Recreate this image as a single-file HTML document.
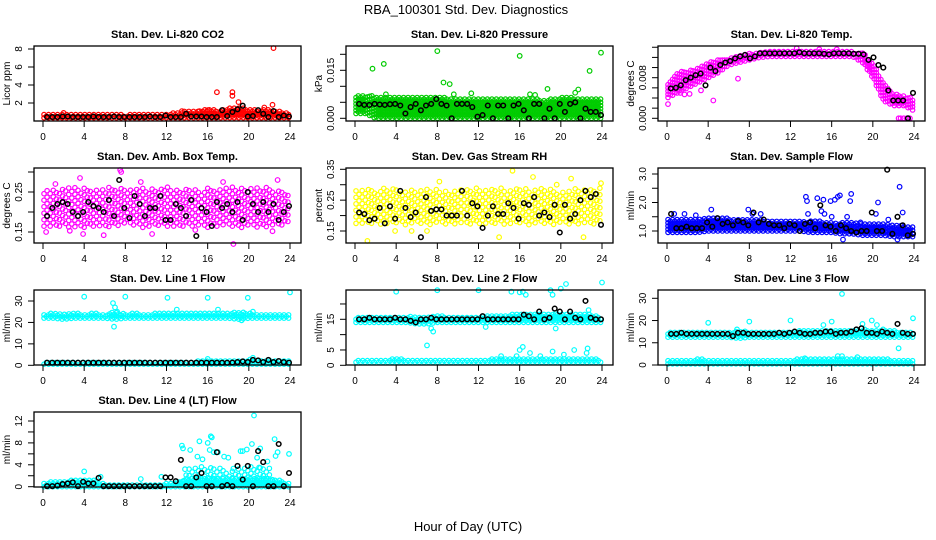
<!DOCTYPE html>
<html><head><meta charset="utf-8"><title>RBA_100301 Std. Dev. Diagnostics</title>
<style>
html,body{margin:0;padding:0;background:#fff;}
svg{display:block;font-family:"Liberation Sans",Arial,sans-serif;}
</style></head>
<body>
<svg id="chart" width="936" height="540" viewBox="0 0 936 540" xmlns="http://www.w3.org/2000/svg">
<rect width="936" height="540" fill="#fff"/>
<text x="466" y="14" font-size="13" text-anchor="middle">RBA_100301  Std. Dev. Diagnostics</text>
<text x="468" y="531" font-size="13" text-anchor="middle">Hour of Day (UTC)</text>
</svg>
<script>
// ---- data (hours 0..24 for band arrays; black points evenly spaced over the day) ----
const xTicks = [0,4,8,12,16,20,24];

const co2Lo = [0.35,0.35,0.35,0.35,0.35,0.35,0.35,0.35,0.35,0.35,0.35,0.35,0.35,0.35,0.35,0.35,0.35,0.35,0.35,0.35,0.35,0.35,0.35,0.35,0.35];
const co2Hi = [0.8,0.8,0.8,0.8,0.8,0.8,0.8,0.8,0.7,0.8,0.8,0.8,0.8,1.0,1.1,1.2,1.3,1.2,1.4,1.6,1.3,1.2,1.3,1.1,0.9];
const co2OutX = [16.9,18.4,18.4,19,22.4,22.3,21.5,13.5,15.2,16,2];
const co2OutY = [3.2,3.2,2.8,2.1,8.1,1.8,1.5,1.1,1.1,1.2,0.9];
const co2Black = [0.45,0.45,0.45,0.5,0.5,0.45,0.45,0.45,0.45,0.5,0.45,0.45,0.45,0.5,0.45,0.45,0.45,0.45,0.45,0.45,0.5,0.45,0.45,0.6,0.45,0.45,0.45,0.8,0.5,0.5,0.5,0.45,0.45,0.45,1.2,0.55,1.0,1.3,1.7,0.5,0.55,1.2,0.8,0.45,1.1,0.45,0.6,0.5];

const presLo = [0.0015,0.0015,0.0,0,0,0,0,0,0,0,0,0,0,0,0,0,0,0,0,0,0,0,0,0,0];
const presHi = [0.0072,0.0072,0.007,0.007,0.007,0.0068,0.0068,0.0065,0.0068,0.0065,0.006,0.0062,0.006,0.0062,0.0065,0.0062,0.0062,0.0065,0.006,0.006,0.0065,0.0068,0.006,0.0062,0.006];
const presOutX = [1.7,2.8,8,16,22.8,23.9,8.6,9.2,18.7,9.6,17,21.7,3,11.3,17.5,21.4];
const presOutY = [0.0155,0.017,0.021,0.0195,0.0148,0.0205,0.0112,0.0107,0.0092,0.0075,0.0075,0.009,0.0075,0.0078,0.0073,0.008];
const presBlack = [0.0045,0.0042,0.0042,0.0045,0.0043,0.0042,0.0044,0.0045,0.004,0.0015,0.0035,0.0045,0.0025,0.004,0.0045,0.006,0.0045,0.004,0.0,0.0045,0.0045,0.0045,0.0035,0.0005,0.001,0.004,0.0,0.004,0.004,0.0,0.004,0.0045,0.0025,0.0,0.0045,0.0045,0.0,0.003,0.0,0.0045,0.002,0.0045,0.005,0.0,0.003,0.002,0.002,0.001];

const tempLo = [0.004,0.005,0.006,0.007,0.008,0.009,0.0105,0.011,0.0115,0.012,0.0122,0.0122,0.0122,0.0122,0.0122,0.0122,0.0122,0.0122,0.0122,0.011,0.008,0.0035,0.0025,0.0025,0.0015];
const tempHi = [0.007,0.009,0.0095,0.01,0.011,0.0115,0.012,0.0125,0.0128,0.013,0.0132,0.0132,0.0132,0.0132,0.0132,0.0132,0.0132,0.0132,0.0132,0.013,0.011,0.007,0.005,0.0045,0.004];
const tempOutX = [0.1,4.5,6.9,1.7,1.3,22.5,22.7,23,23.3,23.6,12.6,14.8,16.5,3.3,2.2];
const tempOutY = [0.0028,0.0035,0.0078,0.0047,0.005,0.0,0.0,0.0,0.0,0.0,0.0138,0.0136,0.0136,0.0055,0.0048];
const tempBlack = [0.0059,0.006,0.0065,0.0075,0.008,0.0085,0.0088,0.0065,0.01,0.0093,0.0105,0.011,0.0113,0.0118,0.0122,0.0125,0.0118,0.0122,0.0128,0.0128,0.0128,0.0128,0.0128,0.0128,0.0128,0.0128,0.013,0.0128,0.0128,0.0128,0.0128,0.0127,0.0126,0.0128,0.0128,0.0128,0.0128,0.0127,0.0127,0.0126,0.0115,0.012,0.0105,0.01,0.0055,0.0035,0.0035,0.0035,0.0,0.005];

const ambLo = [0.165,0.16,0.165,0.16,0.16,0.165,0.16,0.165,0.17,0.165,0.16,0.165,0.165,0.16,0.165,0.165,0.16,0.165,0.165,0.16,0.165,0.16,0.165,0.165,0.17];
const ambHi = [0.255,0.26,0.26,0.265,0.26,0.255,0.26,0.265,0.26,0.265,0.26,0.26,0.265,0.26,0.26,0.255,0.26,0.26,0.265,0.26,0.26,0.265,0.26,0.255,0.25];
const ambOutX = [7.5,3.6,7.6,18.5,14.8,10.6,5.9,3.9,2.6,22.3,1.2,0.3,17.5,22.8,9.5];
const ambOutY = [0.305,0.285,0.3,0.12,0.155,0.145,0.142,0.145,0.153,0.152,0.27,0.15,0.275,0.28,0.275];
const ambBlack = [0.19,0.21,0.22,0.225,0.22,0.2,0.19,0.2,0.225,0.215,0.21,0.2,0.23,0.19,0.28,0.21,0.185,0.24,0.22,0.19,0.21,0.21,0.24,0.18,0.18,0.22,0.21,0.19,0.23,0.14,0.21,0.2,0.165,0.225,0.21,0.22,0.2,0.225,0.18,0.25,0.22,0.2,0.225,0.2,0.22,0.18,0.2,0.215];

const rhLo = [0.175,0.17,0.175,0.17,0.175,0.17,0.175,0.17,0.175,0.17,0.175,0.17,0.175,0.17,0.175,0.17,0.175,0.17,0.175,0.17,0.175,0.17,0.175,0.17,0.175];
const rhHi = [0.285,0.29,0.285,0.29,0.285,0.28,0.285,0.29,0.285,0.28,0.29,0.285,0.29,0.285,0.29,0.285,0.29,0.285,0.29,0.285,0.28,0.285,0.29,0.285,0.29];
const rhOutX = [15.3,17.3,21,1.2,14,22.2,7,3.9,5.5,8.2,19.6,23.9];
const rhOutY = [0.345,0.325,0.32,0.118,0.13,0.13,0.15,0.15,0.15,0.31,0.3,0.305];
const rhBlack = [0.21,0.205,0.185,0.19,0.225,0.175,0.23,0.19,0.28,0.225,0.195,0.21,0.13,0.26,0.215,0.22,0.22,0.2,0.2,0.2,0.28,0.2,0.24,0.23,0.16,0.2,0.23,0.205,0.205,0.24,0.225,0.19,0.24,0.235,0.26,0.2,0.21,0.195,0.235,0.145,0.235,0.19,0.205,0.25,0.28,0.26,0.27,0.17];

const flowLo = [0.95,0.95,0.95,0.95,1.0,1.0,1.0,1.0,1.0,1.0,1.0,1.0,1.0,1.0,0.95,0.95,0.95,0.9,0.9,0.85,0.85,0.85,0.8,0.8,0.8];
const flowHi = [1.4,1.4,1.4,1.4,1.45,1.45,1.45,1.4,1.45,1.4,1.35,1.35,1.35,1.35,1.35,1.35,1.3,1.3,1.3,1.25,1.25,1.25,1.2,1.2,1.15];
const flowOutX = [13.5,13.6,14.6,15.2,15.9,16.3,16.6,16.8,17.8,17.9,20.5,22.6,22.9,20.3,15,15.3,16,13.7,17.5,21.5,18.8,0.7,1.7,2.8,4.3,7.9,8.3,9.1,17.1,22.4];
const flowOutY = [2.2,2.05,2.15,2.1,2.05,2.1,2.2,2.25,2.05,2.3,2.0,2.55,1.65,1.6,1.7,1.6,1.5,1.6,1.5,1.4,1.3,1.6,1.6,1.55,1.75,1.75,1.6,1.6,0.7,0.7];
const flowBlack = [1.6,1.1,1.1,1.15,1.1,1.1,1.1,1.3,1.15,1.45,1.25,1.3,1.2,1.35,1.3,1.2,1.65,1.3,1.4,1.25,1.2,1.2,1.1,1.25,1.2,1.0,1.25,1.3,1.1,1.9,1.2,1.15,1.0,1.2,1.1,1.0,0.95,1.0,1.0,1.65,1.0,1.0,3.15,0.9,1.5,1.2,0.85,0.9];

const l1UpLo = [22,22,21.5,22,22,22,22,21.5,22,22,22,22,22,22,22,22,22,22,22,21.5,22,22,22,22,22];
const l1UpHi = [24,24.5,24,24.5,24,24.5,24,25,24,24.5,24,24.5,24.5,25,24.5,24.5,24.5,24.5,24.5,25,24.5,24,24,24,24];
const l1LoLo = [0.5,0.5,0.5,0.5,0.5,0.5,0.5,0.5,0.5,0.5,0.5,0.5,0.5,0.5,0.5,0.5,0.5,0.5,0.5,0.5,0.5,0.5,0.5,0.5,0.5];
const l1LoHi = [1.8,1.8,1.8,1.8,1.8,1.8,1.8,1.8,1.8,1.8,1.8,1.8,1.8,1.8,1.8,2.0,2.2,2.2,2.5,2.5,2.8,2.5,2.5,2.2,2.0];
const l1OutX = [4,8,12.1,16,19.9,24,6.8,7,6.9,20.4,17,19.3,7.2,16,20.4,13];
const l1OutY = [32,32,31.5,31.5,31.5,34,29,27,18,25,26,21,25,3,3.5,26];
const l1Black = [1.2,1.2,1.2,1.2,1.2,1.2,1.2,1.2,1.2,1.2,1.2,1.2,1.2,1.2,1.2,1.2,1.2,1.2,1.2,1.2,1.2,1.2,1.2,1.2,1.2,1.2,1.2,1.2,1.2,1.2,1.2,1.2,1.2,1.2,1.2,1.2,1.3,1.5,1.8,1.5,2.5,2.3,1.5,2.5,1.5,2.0,1.5,1.2];

const l2UpLo = [14,14,14,14,14,14,13.5,13.5,14,14,14,14,14,14,14,14,14,14,14,14,14,14,14,14,14];
const l2UpHi = [16,16,16,16,16,16,16,16,16.5,16,16,16,16,16.5,16,16.5,17,17,17,17,17,17,17,16.5,16];
const l2LoLo = [1,1,1,1,1,1,1,1,1,1,1,1,1,1,1,1,1,1,1,1,1,1,1,1,1];
const l2LoHi = [2,2,2,2,2.2,2,2,2,2,2,2,2,2,2,2.2,2.5,2.5,2.5,2.5,2.5,2.5,2.5,2.5,2.2,2];
const l2OutX = [4,8,12,15.2,16,16.3,16.6,19,19.2,20,20.5,24,7,7.4,7.6,19.5,12.7,16,16.3,19.2,21.3,22.6,22.5,14.2,20.3,15.7,17,18,22.7,17.6,19.5,6.8];
const l2OutY = [24,24.5,24.5,24,23.8,24,23,24.5,23,25,26.5,27,6.5,12,11,12,12.5,5,6,4.5,5,5.5,4,3,3.5,3,4,3,18,16,17,15];
const l2Black = [15,15,15.5,15,15,15,15,15.5,15,15,14.5,14,15,15,15.5,15,15,15,15,15,15,15,15,15,16,15,15,15,15,15,15,15,16.5,16,15,17.5,15,15.5,18.5,17.5,15,17.5,15.5,15,21,15.5,15,15];

const l3UpLo = [12.5,12.5,12.5,12.5,12.5,12.5,12.5,12,12.5,12.5,12.5,12.5,12.5,12.5,12.5,12.5,12.5,12.5,12.5,12.5,12.5,12.5,12.5,12.5,12.5];
const l3UpHi = [15,15,15,15,15,15,15,15.5,15,15,15,15,15,15.5,15.5,15.5,16,16,16,16,16,15.5,15.5,15,15];
const l3LoLo = [0.5,0.5,0.5,0.5,0.5,0.5,0.5,0.5,0.5,0.5,0.5,0.5,0.5,0.5,0.5,0.5,0.5,0.5,0.5,0.5,0.5,0.5,0.5,0.5,0.5];
const l3LoHi = [2.5,2.5,2.5,2.8,2.5,2.5,2.5,2.5,2.5,2.5,2.5,2.5,2.5,2.8,2.8,2.8,3,3,3,3,2.8,2.8,2.5,2.5,2.5];
const l3OutX = [4,8,12,15.2,16,17,19.9,20.4,19,22.5,23.9,6.8,16.6,17,13.4,18.5,19.2,21];
const l3OutY = [19,19.5,20,18,19.5,32,20,18,18.5,7.5,21,16,4,4,3,3.5,16,16];
const l3Black = [14,14,14.5,14,14,14,14,14,14,14,14,14,13,14.5,14.5,14,14,14,14,14,14,14.5,14,14.5,15,14.5,14,14,14.5,14.5,15,15,14,14.5,14.5,15,16,16.5,14.5,14.5,14,15,14.5,14,18.5,14.5,14,14];

const l4ALo = [0,0,0,0,0,0,0,0,0,0,0,0,0,0,0,0,0,0,0,0,0,0,0,0,0];
const l4AHi = [0.8,1.0,1.0,1.3,1.3,1.2,0.5,0.5,0.5,0.5,0.5,0.5,0.6,1.0,1.5,1.5,1.5,1.5,1.5,1.5,1.5,1.5,1.5,1.2,0.6];
const l4BLo = [0,0,0,0,0,0,0,0,0,0,0,0,0,0,1.5,1.5,1.5,1.5,1.5,1.5,1.5,1.5,1.5,0,0];
const l4BHi = [0,0,0,0,0,0,0,0,0,0,0,0,0,0,3.5,4,3.5,3.5,3,3.5,4,3.5,3.5,0,0];
const l4OutX = [13.5,13.6,15.2,16,16.3,16.4,16.2,16.6,17,17.6,18,19.2,19.4,19.8,20.3,20.5,21.1,21.8,22.5,22.8,22.6,23.9,4,5.6,9.5,11.5,15,15.5,14.3,18.5,21,13.8,20.8];
const l4OutY = [7.5,7,8.3,8,9.2,9,6.7,6.3,6.3,5.5,5.3,6.5,6.5,6.8,7.8,13,7,4.6,8.7,6.3,5.6,6,2.8,1.8,1.4,1.8,5.5,5,6.7,3.3,3.5,3.2,5.3];
const l4Black = [0.1,0.1,0.2,0.5,0.6,0.8,0.1,0.9,0.6,0.6,1.6,0.1,0.1,0.1,0.1,0.1,0.1,0.1,0.1,0.1,0.1,0.1,0.1,1.7,1.7,1.0,4.9,0.1,0.1,1.7,2.5,0.1,0.1,6.3,0.1,0.3,0.1,3.8,1.3,3.8,0.1,6.5,4.5,0.1,0.1,7.8,0.1,2.5];

// ---- layout / rendering ----
const svg = document.getElementById('chart');
const NS = 'http://www.w3.org/2000/svg';
function mk(tag, attrs, parent){ const e=document.createElementNS(NS,tag); for(const k in attrs) e.setAttribute(k,attrs[k]); (parent||svg).appendChild(e); return e; }

const panels = [
 {key:'co2', title:'Stan. Dev. Li-820 CO2', ylab:'Licor ppm', col:0,row:0, color:'#ff0000', ref:[2,103,8,49], ticks:[2,4,6,8], labels:['2','4','6','8'], bands:[[co2Lo,co2Hi,0]], outX:co2OutX, outY:co2OutY, black:co2Black},
 {key:'pressure', title:'Stan. Dev. Li-820 Pressure', ylab:'kPa', col:1,row:0, color:'#00cc00', ref:[0,118.3,0.015,70.3], ticks:[0,0.005,0.01,0.015,0.02], labels:['0.000','','','0.015',''], bands:[[presLo,presHi,0]], outX:presOutX, outY:presOutY, black:presBlack},
 {key:'temp', title:'Stan. Dev. Li-820 Temp.', ylab:'degrees C', col:2,row:0, color:'#ff00ff', ref:[0,118.3,0.008,77.7], ticks:[0,0.002,0.004,0.006,0.008,0.01,0.012,0.014], labels:['0.000','','','','0.008','','',''], bands:[[tempLo,tempHi,0]], outX:tempOutX, outY:tempOutY, black:tempBlack},
 {key:'ambbox', title:'Stan. Dev. Amb. Box Temp.', ylab:'degrees C', col:0,row:1, color:'#ff00ff', ref:[0.15,232,0.25,192], ticks:[0.15,0.2,0.25,0.3], labels:['0.15','','0.25',''], bands:[[ambLo,ambHi,1]], outX:ambOutX, outY:ambOutY, black:ambBlack},
 {key:'rh', title:'Stan. Dev. Gas Stream RH', ylab:'percent', col:1,row:1, color:'#ffff00', ref:[0.15,231,0.35,169.3], ticks:[0.15,0.2,0.25,0.3,0.35], labels:['0.15','','0.25','','0.35'], bands:[[rhLo,rhHi,1]], outX:rhOutX, outY:rhOutY, black:rhBlack},
 {key:'sampleflow', title:'Stan. Dev. Sample Flow', ylab:'ml/min', col:2,row:1, color:'#0000ff', ref:[1,231,3,174], ticks:[1,1.5,2,2.5,3], labels:['1.0','','2.0','','3.0'], bands:[[flowLo,flowHi,0]], outX:flowOutX, outY:flowOutY, black:flowBlack},
 {key:'line1', title:'Stan. Dev. Line 1 Flow', ylab:'ml/min', col:0,row:2, color:'#00ffff', ref:[0,365.3,30,301], ticks:[0,10,20,30], labels:['0','10','20','30'], bands:[[l1UpLo,l1UpHi,0],[l1LoLo,l1LoHi,0]], outX:l1OutX, outY:l1OutY, black:l1Black},
 {key:'line2', title:'Stan. Dev. Line 2 Flow', ylab:'ml/min', col:1,row:2, color:'#00ffff', ref:[0,365.3,15,319.3], ticks:[0,5,10,15,20], labels:['0','5','','15',''], bands:[[l2UpLo,l2UpHi,0],[l2LoLo,l2LoHi,0]], outX:l2OutX, outY:l2OutY, black:l2Black},
 {key:'line3', title:'Stan. Dev. Line 3 Flow', ylab:'ml/min', col:2,row:2, color:'#00ffff', ref:[0,365,30,298.3], ticks:[0,10,20,30], labels:['0','10','20','30'], bands:[[l3UpLo,l3UpHi,0],[l3LoLo,l3LoHi,0]], outX:l3OutX, outY:l3OutY, black:l3Black},
 {key:'line4', title:'Stan. Dev. Line 4 (LT) Flow', ylab:'ml/min', col:0,row:3, color:'#00ffff', ref:[0,486.7,12,421], ticks:[0,2,4,6,8,10,12], labels:['0','','4','','8','','12'], bands:[[l4ALo,l4AHi,0],[l4BLo,l4BHi,1]], outX:l4OutX, outY:l4OutY, black:l4Black}
];

function interp(arr, h){ const i=Math.min(Math.floor(h),arr.length-2); const f=h-i; return arr[i]*(1-f)+arr[i+1]*f; }
const colShift = [0,0.55,0.2,0.8,0.35,0.1,0.65,0.45];

panels.forEach(p=>{
  const left=34+312*p.col, right=301+312*p.col, top=46+122*p.row, bottom=121+122*p.row;
  const x0=43+312*p.col, xs=(247/24);
  const X = h => x0 + h*xs;
  const k=(p.ref[3]-p.ref[1])/(p.ref[2]-p.ref[0]);
  const Y = v => p.ref[1] + (v-p.ref[0])*k;
  const g = mk('g',{});
  
  

  const t = mk('text',{x:(left+right)/2, y:top-8, 'font-size':11, 'font-weight':'bold', 'text-anchor':'middle'}, g);
  t.textContent = p.title;
  
  

  const pts = mk('g',{fill:'none', stroke:p.color, 'stroke-width':1.2}, g);
  
  
  p.bands.forEach(b=>{
    const sparse = b[2]===1;
    const stepY = sparse ? 6.5 : 3.2;
    const stepX = sparse ? 0.3 : 0.22;
    let col=0;
    for(let h=0.1; h<=23.95; h+=stepX, col++){
      const lo=interp(b[0],h), hi=interp(b[1],h);
      if(hi<=lo) continue;
      const yl=Y(lo), yh=Y(hi);
      const off = sparse ? colShift[col%colShift.length]*stepY : (col%2)*stepY/2;
      for(let y=yl-off; y>=yh; y-=stepY){
        const c = mk('circle',{cx:X(h).toFixed(1), cy:y.toFixed(1), r:2.2}, pts);
        
        
      }
    }
  });
  p.outX.forEach((h,i)=>{
    const c = mk('circle',{cx:X(h).toFixed(1), cy:Y(p.outY[i]).toFixed(1), r:2.3}, pts);
    
    
  });
  const bk = mk('g',{fill:'none', stroke:'#000', 'stroke-width':1.5}, g);
  
  
  const n=p.black.length;
  p.black.forEach((v,i)=>{
    const h=(i+1)*24/n - 0.1;
    const c = mk('circle',{cx:X(h).toFixed(1), cy:Y(v).toFixed(1), r:2.3}, bk);
    
    
  });

  const box = mk('rect',{x:left, y:top, width:right-left, height:bottom-top, fill:'none', stroke:'#000', 'stroke-width':1.3}, g);
  
  

  const xa = mk('g',{}, g);
  
  
  xTicks.forEach(h=>{
    mk('line',{x1:X(h), x2:X(h), y1:bottom, y2:bottom+6, stroke:'#000', 'stroke-width':1}, xa);
    const tl = mk('text',{x:X(h), y:bottom+19, 'font-size':10, 'text-anchor':'middle'}, xa);
    tl.textContent = h;
    
    
  });
  const ya = mk('g',{}, g);
  
  
  p.ticks.forEach((v,i)=>{
    const yy=Y(v);
    mk('line',{x1:left-6, x2:left, y1:yy, y2:yy, stroke:'#000', 'stroke-width':1}, ya);
    if(p.labels[i]){
      const tl = mk('text',{x:0, y:0, 'font-size':10, 'text-anchor':'middle', transform:`translate(${left-12},${yy}) rotate(-90)`}, ya);
      tl.textContent = p.labels[i];
      
      
    }
  });
  const yl = mk('text',{x:0,y:0,'font-size':10,'text-anchor':'middle', transform:`translate(${left-24},${(top+bottom)/2}) rotate(-90)`}, g);
  yl.textContent = p.ylab;
  
  
});
</script>
</body></html>
